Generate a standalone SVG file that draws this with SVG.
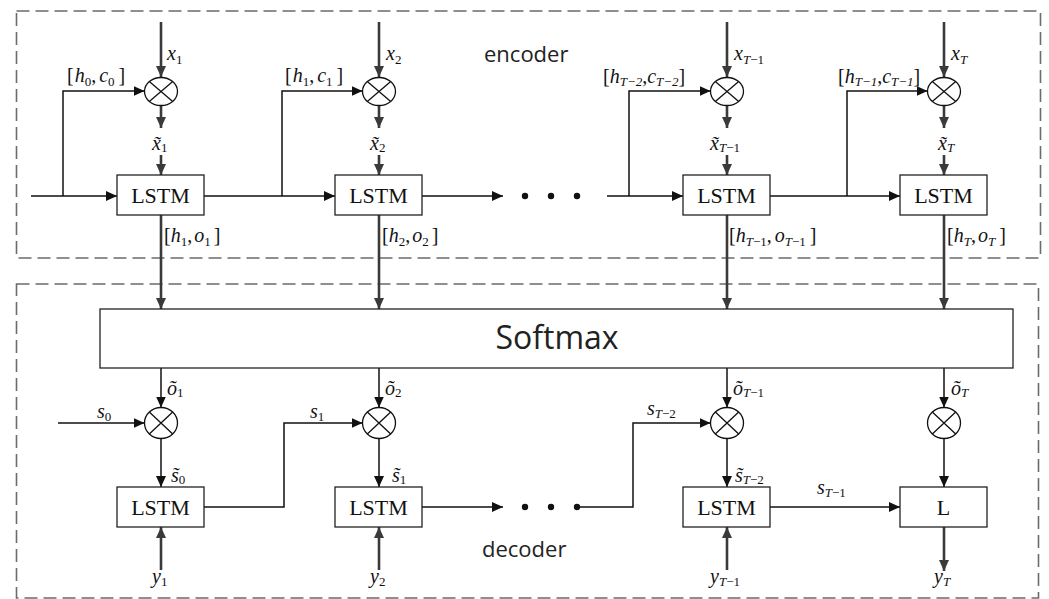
<svg xmlns="http://www.w3.org/2000/svg" width="1049" height="599" viewBox="0 0 1049 599">
<style>
.frame{fill:none;stroke:#6b6b6b;stroke-width:1.6;stroke-dasharray:13 6}
.box{fill:#fff;stroke:#222;stroke-width:1.3}
.mul{fill:#fff;stroke:#111;stroke-width:1.3}
.x{stroke:#111;stroke-width:1.3}
.thin{fill:none;stroke:#111;stroke-width:1.5}
.thick{fill:none;stroke:#3a3a3a;stroke-width:2.6}
.lbl{font-family:"Liberation Serif","Times New Roman",serif;font-size:22px;fill:#111;text-anchor:middle}
.m{font-family:"Liberation Serif",serif;font-style:italic;font-size:20px;fill:#111}
.sub{font-style:normal;font-size:13px}
.subi{font-style:italic;font-size:13px}
.up{font-style:normal}
.sans{font-family:"Open Sans","Liberation Sans",sans-serif;fill:#222}
</style>
<defs>
<marker id="ah" markerUnits="userSpaceOnUse" markerWidth="12" markerHeight="10" refX="11" refY="5" orient="auto">
<path d="M0,0 L11,5 L0,10 Z" fill="#111"/>
</marker>
<marker id="ahd" markerUnits="userSpaceOnUse" markerWidth="12" markerHeight="10" refX="11" refY="5" orient="auto">
<path d="M0,0 L11,5 L0,10 Z" fill="#3a3a3a"/>
</marker>
</defs>

<g id="encoder-frame"><rect class="frame" x="16.5" y="11" width="1024" height="247"/></g>
<g id="decoder-frame"><rect class="frame" x="16.5" y="284" width="1022" height="314"/></g>

<g id="connectors">
<line class="thick" x1="161" y1="22" x2="161" y2="77" marker-end="url(#ahd)"/>
<line class="thick" x1="379" y1="22" x2="379" y2="77" marker-end="url(#ahd)"/>
<line class="thick" x1="727" y1="22" x2="727" y2="77" marker-end="url(#ahd)"/>
<line class="thick" x1="944" y1="22" x2="944" y2="77" marker-end="url(#ahd)"/>
<line class="thick" x1="161" y1="105" x2="161" y2="128" marker-end="url(#ahd)"/>
<line class="thick" x1="379" y1="105" x2="379" y2="128" marker-end="url(#ahd)"/>
<line class="thick" x1="727" y1="105" x2="727" y2="128" marker-end="url(#ahd)"/>
<line class="thick" x1="944" y1="105" x2="944" y2="128" marker-end="url(#ahd)"/>
<line class="thick" x1="161" y1="155" x2="161" y2="175" marker-end="url(#ahd)"/>
<line class="thick" x1="379" y1="155" x2="379" y2="175" marker-end="url(#ahd)"/>
<line class="thick" x1="727" y1="155" x2="727" y2="175" marker-end="url(#ahd)"/>
<line class="thick" x1="944" y1="155" x2="944" y2="175" marker-end="url(#ahd)"/>
<line class="thin" x1="31" y1="196" x2="117" y2="196" stroke-width="2" marker-end="url(#ah)"/>
<polyline class="thin" points="63,196 63,91 144.5,91" marker-end="url(#ah)"/>
<line class="thin" x1="204" y1="196" x2="335" y2="196" marker-end="url(#ah)"/>
<polyline class="thin" points="282,196 282,91 362.5,91" marker-end="url(#ah)"/>
<line class="thin" x1="422" y1="196" x2="503" y2="196" stroke-width="2" marker-end="url(#ah)"/>
<line class="thin" x1="607" y1="196" x2="683" y2="196" stroke-width="2" marker-end="url(#ah)"/>
<polyline class="thin" points="629,196 629,91 710.5,91" marker-end="url(#ah)"/>
<line class="thin" x1="770" y1="196" x2="900" y2="196" marker-end="url(#ah)"/>
<polyline class="thin" points="847,196 847,91 927.5,91" marker-end="url(#ah)"/>
<line class="thick" x1="161" y1="215" x2="161" y2="309" marker-end="url(#ahd)"/>
<line class="thick" x1="379" y1="215" x2="379" y2="309" marker-end="url(#ahd)"/>
<line class="thick" x1="727" y1="215" x2="727" y2="309" marker-end="url(#ahd)"/>
<line class="thick" x1="944" y1="215" x2="944" y2="309" marker-end="url(#ahd)"/>
<line class="thin" x1="161" y1="368" x2="161" y2="407.5" marker-end="url(#ah)"/>
<line class="thin" x1="379" y1="368" x2="379" y2="407.5" marker-end="url(#ah)"/>
<line class="thin" x1="727" y1="368" x2="727" y2="407.5" marker-end="url(#ah)"/>
<line class="thin" x1="944" y1="368" x2="944" y2="407.5" marker-end="url(#ah)"/>
<line class="thin" x1="161" y1="438.5" x2="161" y2="487" marker-end="url(#ah)"/>
<line class="thin" x1="379" y1="438.5" x2="379" y2="487" marker-end="url(#ah)"/>
<line class="thin" x1="727" y1="438.5" x2="727" y2="487" marker-end="url(#ah)"/>
<line class="thin" x1="944" y1="438.5" x2="944" y2="487" marker-end="url(#ah)"/>
<line class="thin" x1="58" y1="423" x2="144.5" y2="423" stroke-width="2" marker-end="url(#ah)"/>
<polyline class="thin" points="204,507 284,507 284,423 362.5,423" marker-end="url(#ah)"/>
<line class="thin" x1="422" y1="507" x2="503" y2="507" stroke-width="2" marker-end="url(#ah)"/>
<polyline class="thin" points="577,507 633,507 633,423 710.5,423" marker-end="url(#ah)"/>
<line class="thin" x1="770" y1="507" x2="900" y2="507" marker-end="url(#ah)"/>
<line class="thick" x1="161" y1="570" x2="161" y2="527" marker-end="url(#ahd)"/>
<line class="thick" x1="379" y1="570" x2="379" y2="527" marker-end="url(#ahd)"/>
<line class="thick" x1="727" y1="570" x2="727" y2="527" marker-end="url(#ahd)"/>
<line class="thick" x1="944" y1="527" x2="944" y2="571" marker-end="url(#ahd)"/>
<circle cx="525" cy="196" r="3.2" fill="#111"/>
<circle cx="551" cy="196" r="3.2" fill="#111"/>
<circle cx="577" cy="196" r="3.2" fill="#111"/>
<circle cx="525" cy="507" r="3.2" fill="#111"/>
<circle cx="551" cy="507" r="3.2" fill="#111"/>
<circle cx="577" cy="507" r="3.2" fill="#111"/>
</g>

<g id="enc-mul-1"><ellipse class="mul" cx="161" cy="91.5" rx="16.5" ry="14"/><path class="x" d="M149.3,81.6 L172.7,101.4 M172.7,81.6 L149.3,101.4"/></g>
<g id="enc-mul-2"><ellipse class="mul" cx="379" cy="91.5" rx="16.5" ry="14"/><path class="x" d="M367.3,81.6 L390.7,101.4 M390.7,81.6 L367.3,101.4"/></g>
<g id="enc-mul-3"><ellipse class="mul" cx="727" cy="91.5" rx="16.5" ry="14"/><path class="x" d="M715.3,81.6 L738.7,101.4 M738.7,81.6 L715.3,101.4"/></g>
<g id="enc-mul-4"><ellipse class="mul" cx="944" cy="91.5" rx="16.5" ry="14"/><path class="x" d="M932.3,81.6 L955.7,101.4 M955.7,81.6 L932.3,101.4"/></g>

<g id="enc-lstm-1"><rect class="box" x="117" y="175" width="87" height="40"/><text class="lbl" x="160.5" y="203">LSTM</text></g>
<g id="enc-lstm-2"><rect class="box" x="335" y="175" width="87" height="40"/><text class="lbl" x="378.5" y="203">LSTM</text></g>
<g id="enc-lstm-3"><rect class="box" x="683" y="175" width="87" height="40"/><text class="lbl" x="726.5" y="203">LSTM</text></g>
<g id="enc-lstm-4"><rect class="box" x="900" y="175" width="87" height="40"/><text class="lbl" x="943.5" y="203">LSTM</text></g>

<g id="softmax"><rect class="box" x="100" y="309" width="913" height="59"/><text class="sans" x="557" y="349" font-size="32" text-anchor="middle">Softmax</text></g>

<g id="dec-mul-1"><ellipse class="mul" cx="161" cy="423" rx="16.5" ry="15.5"/><path class="x" d="M149.3,412 L172.7,434 M172.7,412 L149.3,434"/></g>
<g id="dec-mul-2"><ellipse class="mul" cx="379" cy="423" rx="16.5" ry="15.5"/><path class="x" d="M367.3,412 L390.7,434 M390.7,412 L367.3,434"/></g>
<g id="dec-mul-3"><ellipse class="mul" cx="727" cy="423" rx="16.5" ry="15.5"/><path class="x" d="M715.3,412 L738.7,434 M738.7,412 L715.3,434"/></g>
<g id="dec-mul-4"><ellipse class="mul" cx="944" cy="423" rx="16.5" ry="15.5"/><path class="x" d="M932.3,412 L955.7,434 M955.7,412 L932.3,434"/></g>

<g id="dec-lstm-1"><rect class="box" x="117" y="487" width="87" height="40"/><text class="lbl" x="160.5" y="515">LSTM</text></g>
<g id="dec-lstm-2"><rect class="box" x="335" y="487" width="87" height="40"/><text class="lbl" x="378.5" y="515">LSTM</text></g>
<g id="dec-lstm-3"><rect class="box" x="683" y="487" width="87" height="40"/><text class="lbl" x="726.5" y="515">LSTM</text></g>
<g id="dec-L"><rect class="box" x="900" y="487" width="87" height="40"/><text class="lbl" x="943.5" y="515">L</text></g>

<g id="labels">
<text class="sans" x="484" y="62" font-size="22">encoder</text>
<text class="sans" x="482" y="557" font-size="22">decoder</text>
<text class="m" x="167" y="60">x<tspan class="sub" dy="4">1</tspan></text>
<text class="m" x="386" y="60">x<tspan class="sub" dy="4">2</tspan></text>
<text class="m" x="734" y="60">x<tspan class="subi" dy="4">T</tspan><tspan class="sub">−1</tspan></text>
<text class="m" x="951" y="60">x<tspan class="subi" dy="4">T</tspan></text>
<text class="m" x="67" y="82" font-size="21"><tspan class="up">[</tspan><tspan dx="1">h</tspan><tspan class="sub" dy="4">0</tspan><tspan class="up" dy="-4">,</tspan><tspan dx="3">c</tspan><tspan class="sub" dy="4">0</tspan><tspan class="up" dx="4" dy="-4">]</tspan></text>
<text class="m" x="285" y="82" font-size="21"><tspan class="up">[</tspan><tspan dx="1">h</tspan><tspan class="sub" dy="4">1</tspan><tspan class="up" dy="-4">,</tspan><tspan dx="3">c</tspan><tspan class="sub" dy="4">1</tspan><tspan class="up" dx="4" dy="-4">]</tspan></text>
<text class="m" x="603" y="83" font-size="21"><tspan class="up">[</tspan>h<tspan class="subi" font-size="11" dy="3">T−2</tspan><tspan class="up" dy="-3">,</tspan>c<tspan class="subi" font-size="11" dy="3">T−2</tspan><tspan class="up" dy="-3">]</tspan></text>
<text class="m" x="838" y="83" font-size="21"><tspan class="up">[</tspan>h<tspan class="subi" font-size="11" dy="3">T−1</tspan><tspan class="up" dy="-3">,</tspan>c<tspan class="subi" font-size="11" dy="3">T−1</tspan><tspan class="up" dy="-3">]</tspan></text>
<text class="m" x="152" y="150">x&#x303;<tspan class="sub" dy="2">1</tspan></text>
<text class="m" x="370" y="150">x&#x303;<tspan class="sub" dy="2">2</tspan></text>
<text class="m" x="710" y="150">x&#x303;<tspan class="subi" dy="2">T</tspan><tspan class="sub">−1</tspan></text>
<text class="m" x="938" y="150">x&#x303;<tspan class="subi" dy="2">T</tspan></text>
<text class="m" x="164" y="242"><tspan class="up">[</tspan>h<tspan class="sub" dy="4">1</tspan><tspan class="up" dy="-4">,</tspan><tspan dx="2">o</tspan><tspan class="sub" dy="4">1</tspan><tspan class="up" dx="3" dy="-4">]</tspan></text>
<text class="m" x="382" y="242"><tspan class="up">[</tspan>h<tspan class="sub" dy="4">2</tspan><tspan class="up" dy="-4">,</tspan><tspan dx="2">o</tspan><tspan class="sub" dy="4">2</tspan><tspan class="up" dx="3" dy="-4">]</tspan></text>
<text class="m" x="729" y="242"><tspan class="up">[</tspan>h<tspan class="subi" dy="4">T</tspan><tspan class="sub">−1</tspan><tspan class="up" dy="-4">,</tspan><tspan dx="3">o</tspan><tspan class="subi" dy="4">T</tspan><tspan class="sub">−1</tspan><tspan class="up" dx="4" dy="-4">]</tspan></text>
<text class="m" x="947" y="242"><tspan class="up">[</tspan>h<tspan class="subi" dy="4">T</tspan><tspan class="up" dy="-4">,</tspan><tspan dx="2">o</tspan><tspan class="subi" dy="4">T</tspan><tspan class="up" dx="4" dy="-4">]</tspan></text>
<text class="m" x="167" y="395">o&#x303;<tspan class="sub" dy="2">1</tspan></text>
<text class="m" x="385" y="395">o&#x303;<tspan class="sub" dy="2">2</tspan></text>
<text class="m" x="733" y="395">o&#x303;<tspan class="subi" dy="2">T</tspan><tspan class="sub">−1</tspan></text>
<text class="m" x="951" y="395">o&#x303;<tspan class="subi" dy="2">T</tspan></text>
<text class="m" x="97" y="418">s<tspan class="sub" dy="3">0</tspan></text>
<text class="m" x="310" y="418">s<tspan class="sub" dy="3">1</tspan></text>
<text class="m" x="647" y="415">s<tspan class="subi" dy="3">T</tspan><tspan class="sub">−2</tspan></text>
<text class="m" x="817" y="494">s<tspan class="subi" dy="3">T</tspan><tspan class="sub">−1</tspan></text>
<text class="m" x="171" y="482">s&#x303;<tspan class="sub" dy="2">0</tspan></text>
<text class="m" x="392" y="482">s&#x303;<tspan class="sub" dy="2">1</tspan></text>
<text class="m" x="735" y="482">s&#x303;<tspan class="subi" dy="2">T</tspan><tspan class="sub">−2</tspan></text>
<text class="m" x="152" y="583">y<tspan class="sub" dy="3">1</tspan></text>
<text class="m" x="370" y="583">y<tspan class="sub" dy="3">2</tspan></text>
<text class="m" x="710" y="583">y<tspan class="subi" dy="3">T</tspan><tspan class="sub">−1</tspan></text>
<text class="m" x="934" y="583">y<tspan class="subi" dy="3">T</tspan></text>
</g>
</svg>
